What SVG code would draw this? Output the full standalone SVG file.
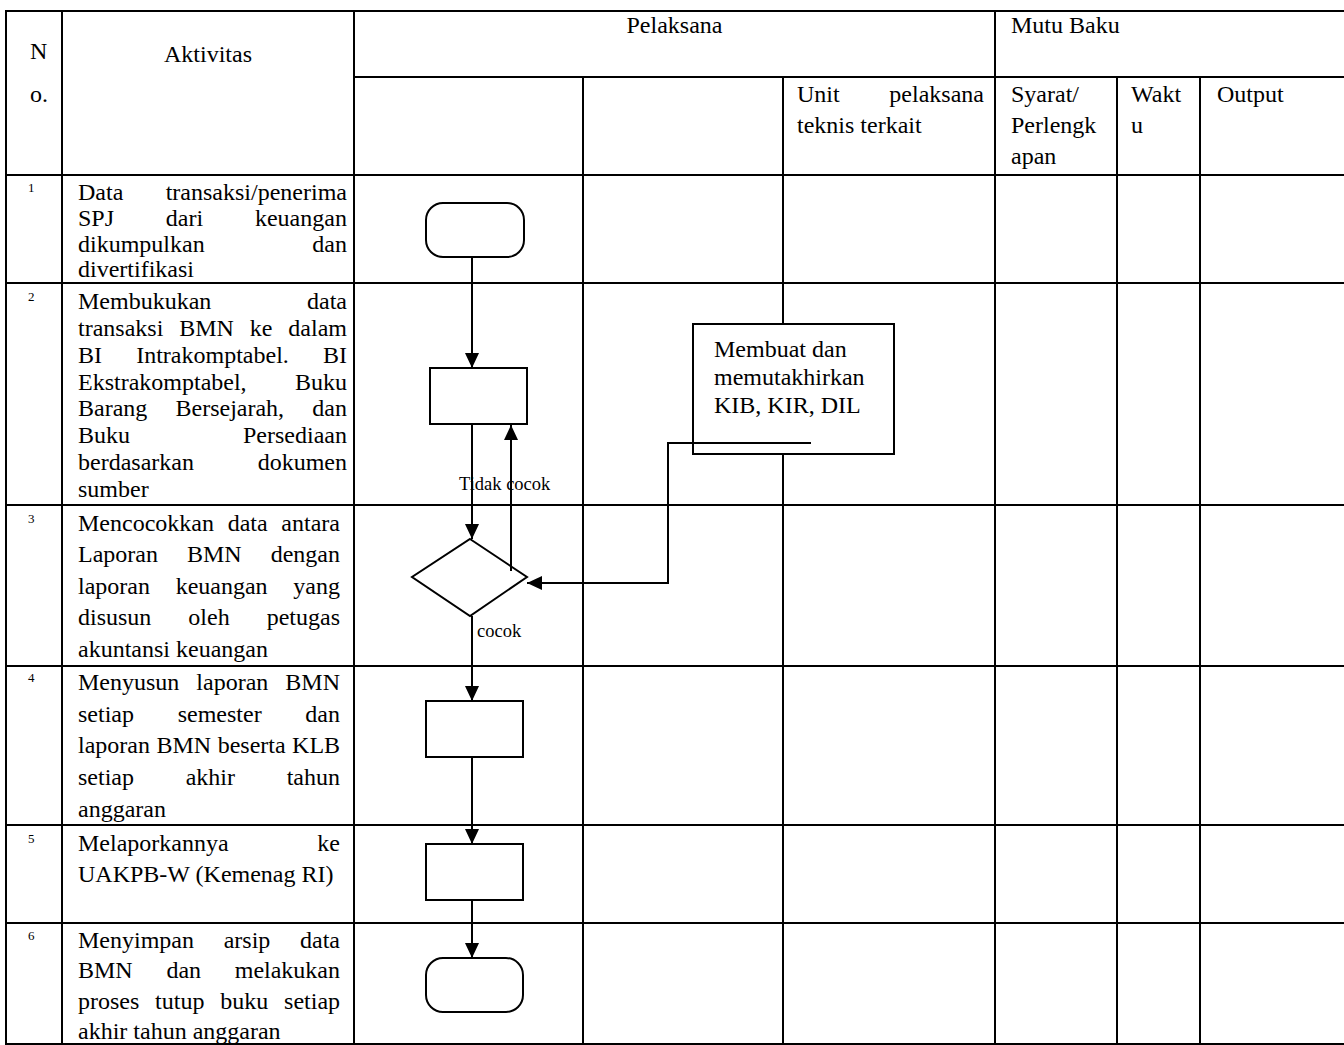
<svg xmlns="http://www.w3.org/2000/svg" width="1344" height="1045" viewBox="0 0 1344 1045">
<style>
.grid line{stroke:#000;stroke-width:2}
.t{font-family:"Liberation Serif","Times New Roman",serif;font-size:24px;fill:#000}
.n{font-family:"Liberation Serif","Times New Roman",serif;font-size:13px;fill:#000}
.lbl{font-family:"Liberation Serif","Times New Roman",serif;font-size:18.5px;fill:#000}
.shape{fill:#fff;stroke:#000;stroke-width:2}
.conn{fill:none;stroke:#000;stroke-width:2}
</style>
<defs>
<marker id="ah" markerUnits="userSpaceOnUse" markerWidth="16" markerHeight="16" refX="15" refY="7" orient="auto">
<path d="M0,0 L15,7 L0,14 Z" fill="#000"/>
</marker>
</defs>
<rect width="1344" height="1045" fill="#fff"/>
<g class="grid" id="table">
<line x1="5" y1="11" x2="1344" y2="11"/>
<line x1="354" y1="77" x2="1344" y2="77"/>
<line x1="5" y1="175" x2="1344" y2="175"/>
<line x1="5" y1="283" x2="1344" y2="283"/>
<line x1="5" y1="505" x2="1344" y2="505"/>
<line x1="5" y1="666" x2="1344" y2="666"/>
<line x1="5" y1="825" x2="1344" y2="825"/>
<line x1="5" y1="923" x2="1344" y2="923"/>
<line x1="5" y1="1044" x2="1344" y2="1044"/>
<line x1="6" y1="10" x2="6" y2="1045"/>
<line x1="62" y1="10" x2="62" y2="1045"/>
<line x1="354" y1="10" x2="354" y2="1045"/>
<line x1="583" y1="77" x2="583" y2="1045"/>
<line x1="783" y1="77" x2="783" y2="1045"/>
<line x1="995" y1="10" x2="995" y2="1045"/>
<line x1="1117" y1="77" x2="1117" y2="1045"/>
<line x1="1200" y1="77" x2="1200" y2="1045"/>
</g>
<g id="table-text">
<text class="t" x="30" y="59">N</text>
<text class="t" x="30" y="102">o.</text>
<text class="t" x="208" y="62" text-anchor="middle">Aktivitas</text>
<text class="t" x="674.5" y="33" text-anchor="middle">Pelaksana</text>
<text class="t" x="1011" y="33">Mutu Baku</text>
<text class="t" x="797" y="102" word-spacing="43.7">Unit pelaksana</text>
<text class="t" x="797" y="133">teknis terkait</text>
<text class="t" x="1011" y="102">Syarat/</text>
<text class="t" x="1011" y="133">Perlengk</text>
<text class="t" x="1011" y="164">apan</text>
<text class="t" x="1131" y="102">Wakt</text>
<text class="t" x="1131" y="133">u</text>
<text class="t" x="1217" y="102">Output</text>

<text class="n" x="28" y="192">1</text>
<text class="t" x="78" y="200" word-spacing="36.4">Data transaksi/penerima</text>
<text class="t" x="78" y="226" word-spacing="45.8">SPJ dari keuangan</text>
<text class="t" x="78" y="252" word-spacing="101.7">dikumpulkan dan</text>
<text class="t" x="78" y="277">divertifikasi</text>

<text class="n" x="28" y="301">2</text>
<text class="t" x="78" y="309" word-spacing="89.7">Membukukan data</text>
<text class="t" x="78" y="336" word-spacing="9.9">transaksi BMN ke dalam</text>
<text class="t" x="78" y="363" word-spacing="28.2">BI Intrakomptabel. BI</text>
<text class="t" x="78" y="390" word-spacing="42.3">Ekstrakomptabel, Buku</text>
<text class="t" x="78" y="416" word-spacing="22.2">Barang Bersejarah, dan</text>
<text class="t" x="78" y="443" word-spacing="107">Buku Persediaan</text>
<text class="t" x="78" y="470" word-spacing="57.7">berdasarkan dokumen</text>
<text class="t" x="78" y="497">sumber</text>

<text class="n" x="28" y="523">3</text>
<text class="t" x="78" y="531" word-spacing="7.7">Mencocokkan data antara</text>
<text class="t" x="78" y="562" word-spacing="23">Laporan BMN dengan</text>
<text class="t" x="78" y="594" word-spacing="19.7">laporan keuangan yang</text>
<text class="t" x="78" y="625" word-spacing="31">disusun oleh petugas</text>
<text class="t" x="78" y="657">akuntansi keuangan</text>

<text class="n" x="28" y="682">4</text>
<text class="t" x="78" y="690" word-spacing="11">Menyusun laporan BMN</text>
<text class="t" x="78" y="722" word-spacing="37.7">setiap semester dan</text>
<text class="t" x="78" y="753" word-spacing="0.5">laporan BMN beserta KLB</text>
<text class="t" x="78" y="785" word-spacing="45.7">setiap akhir tahun</text>
<text class="t" x="78" y="817">anggaran</text>

<text class="n" x="28" y="843">5</text>
<text class="t" x="78" y="851" word-spacing="82.7">Melaporkannya ke</text>
<text class="t" x="78" y="882">UAKPB-W (Kemenag RI)</text>

<text class="n" x="28" y="940">6</text>
<text class="t" x="78" y="948" word-spacing="23.7">Menyimpan arsip data</text>
<text class="t" x="78" y="978" word-spacing="27.7">BMN dan melakukan</text>
<text class="t" x="78" y="1009" word-spacing="9.8">proses tutup buku setiap</text>
<text class="t" x="78" y="1039">akhir tahun anggaran</text>
</g>
<g id="start"><rect class="shape" x="426" y="203" width="98" height="54" rx="17" ry="17"/></g>
<g id="bukukan"><rect class="shape" x="430" y="368" width="97" height="56"/></g>
<g id="cocokkan"><polygon class="shape" points="470,539 527,577 470,616 412,577"/></g>
<g id="susun"><rect class="shape" x="426" y="701" width="97" height="56"/></g>
<g id="lapor"><rect class="shape" x="426" y="844" width="97" height="56"/></g>
<g id="end"><rect class="shape" x="426" y="958" width="97" height="54" rx="17" ry="17"/></g>
<g id="kib">
<rect class="shape" x="693" y="324" width="201" height="130"/>
<text class="t" x="714" y="357">Membuat dan</text>
<text class="t" x="714" y="385">memutakhirkan</text>
<text class="t" x="714" y="413">KIB, KIR, DIL</text>
</g>
<g id="connectors">
<line class="conn" x1="472" y1="257" x2="472" y2="368" marker-end="url(#ah)"/>
<line class="conn" x1="472" y1="424" x2="472" y2="539" marker-end="url(#ah)"/>
<line class="conn" x1="511" y1="571" x2="511" y2="425" marker-end="url(#ah)"/>
<line class="conn" x1="472" y1="616" x2="472" y2="701" marker-end="url(#ah)"/>
<line class="conn" x1="472" y1="757" x2="472" y2="844" marker-end="url(#ah)"/>
<line class="conn" x1="472" y1="900" x2="472" y2="958" marker-end="url(#ah)"/>
<polyline class="conn" points="811,443 668,443 668,583 527,583" marker-end="url(#ah)"/>
<text class="lbl" x="459" y="490">Tidak cocok</text>
<text class="lbl" x="477" y="637">cocok</text>
</g>
</svg>
